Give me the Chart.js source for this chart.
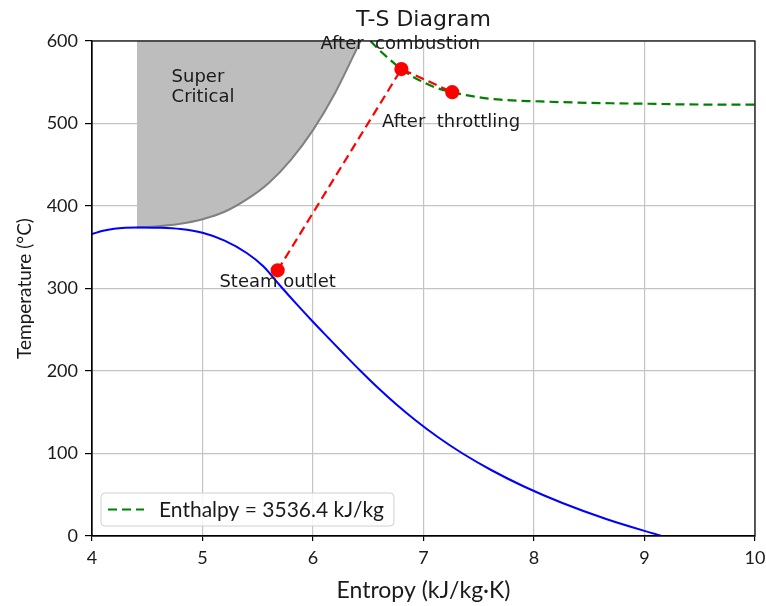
<!DOCTYPE html>
<html>
<head>
<meta charset="utf-8">
<title>T-S Diagram</title>
<script src="https://cdn.jsdelivr.net/npm/chart.js@4/dist/chart.umd.min.js"></script>
<style>
  html, body { margin: 0; padding: 0; background: #fff; }
  #wrap { width: 766px; height: 606px; }
</style>
</head>
<body>
<div id="wrap"><canvas id="tsChart" width="766" height="606"></canvas></div>
<script>
/* ------------------------------
   DATA
--------------------------------*/

const xTicks = [4, 5, 6, 7, 8, 9, 10];
const yTicks = [0, 100, 200, 300, 400, 500, 600];

// saturation dome (entropy kJ/kg·K, temperature °C)
const satS = [4.0, 4.1, 4.2, 4.3, 4.407, 4.6, 4.8, 5.0, 5.2, 5.4, 5.55, 5.705, 5.852, 5.997, 6.14, 6.284, 6.431, 6.585, 6.75, 6.93, 7.129, 7.354, 7.612, 7.909, 8.257, 8.666, 9.155];
const satT = [366, 370, 372.5, 373.7, 374, 373.6, 372, 367.5, 358, 343, 327, 303, 281, 260, 240, 220, 200, 180, 160, 140, 120, 100, 80, 60, 40, 20, 0];

// edge of the super critical region (filled up to the top of the plot)
const critS = [4.407, 4.6, 4.8, 5.0, 5.2, 5.4, 5.6, 5.8, 6.0, 6.2, 6.43];
const critT = [374, 375.5, 378.5, 384, 393, 408, 428, 456, 492, 537, 600];

// constant enthalpy line
const enthLabel = "Enthalpy = 3536.4 kJ/kg";
const enthS = [6.52, 6.6, 6.7, 6.8, 6.9, 7.0, 7.1, 7.26, 7.4, 7.6, 7.8, 8.0, 8.5, 9.0, 9.5, 10.0];
const enthT = [600, 589, 577, 566, 557, 550, 544, 538, 534, 530, 528, 527, 525, 524, 523, 523];

// cycle states
const stateNames = ["Steam outlet", "After  combustion", "After  throttling"];
const stateS = [5.68, 6.80, 7.26];
const stateT = [322, 566, 538];

const regionLabel = ["Super", "Critical"];
const chartTitle = "T-S Diagram";

/* ------------------------------
   HELPERS
--------------------------------*/

const pts = (xs, ys) => xs.map((v, i) => ({ x: v, y: ys[i] }));

/* ------------------------------
   DECORATION PLUGIN
   (frame, title, text notes, legend)
--------------------------------*/

const tsDecor = {
    id: "tsDecor",
    afterDatasetsDraw(chart, args, opts) {
        const { ctx, chartArea: a, scales } = chart;
        const xs = scales.x, ys = scales.y;
        ctx.save();

        // axes frame
        ctx.strokeStyle = "#000";
        ctx.lineWidth = 1.2;
        ctx.strokeRect(a.left, a.top, a.right - a.left, a.bottom - a.top);

        // title centred over the plot area
        ctx.fillStyle = "#1a1a1a";
        ctx.font = '22px "DejaVu Sans"';
        ctx.textAlign = "center";
        ctx.textBaseline = "middle";
        ctx.fillText(opts.title, (a.left + a.right) / 2, a.top - 21);

        // notes
        ctx.font = '18px "DejaVu Sans"';
        opts.notes.forEach(n => {
            ctx.textAlign = n.align || "center";
            ctx.fillText(n.text, xs.getPixelForValue(n.x), ys.getPixelForValue(n.y));
        });

        // legend box
        const ds = chart.data.datasets[opts.legendIndex];
        ctx.font = '21px Lato';
        const tw = ctx.measureText(ds.label).width;
        const bx = a.left + 9, bh = 33, bw = tw + 68;
        const by = a.bottom - 10 - bh;
        ctx.beginPath();
        ctx.roundRect(bx, by, bw, bh, 4);
        ctx.fillStyle = "rgba(255,255,255,0.85)";
        ctx.fill();
        ctx.strokeStyle = "#d0d0d0";
        ctx.lineWidth = 1;
        ctx.stroke();

        ctx.beginPath();
        ctx.setLineDash(ds.borderDash);
        ctx.strokeStyle = ds.borderColor;
        ctx.lineWidth = ds.borderWidth;
        ctx.moveTo(bx + 7, by + bh / 2);
        ctx.lineTo(bx + 43, by + bh / 2);
        ctx.stroke();
        ctx.setLineDash([]);

        ctx.fillStyle = "#1a1a1a";
        ctx.textAlign = "left";
        ctx.fillText(ds.label, bx + 58, by + bh / 2 + 1);

        ctx.restore();
    }
};

/* ------------------------------
   CHART
--------------------------------*/

let tsCtx = document.getElementById("tsChart");

let tsChart = new Chart(tsCtx, {
    type: "line",
    data: {
        datasets: [
            {
                label: "Super Critical",
                data: pts(critS, critT),
                borderColor: "#808080",
                borderWidth: 2,
                pointRadius: 0,
                backgroundColor: "#bdbdbd",
                fill: "end",
                cubicInterpolationMode: "monotone",
                order: 4
            },
            {
                label: "saturation",
                data: pts(satS, satT),
                borderColor: "#0000ff",
                borderWidth: 2,
                pointRadius: 0,
                cubicInterpolationMode: "monotone",
                fill: false,
                order: 3
            },
            {
                label: enthLabel,
                data: pts(enthS, enthT),
                borderColor: "#008000",
                borderWidth: 2.2,
                borderDash: [9, 5],
                pointRadius: 0,
                cubicInterpolationMode: "monotone",
                fill: false,
                order: 2
            },
            {
                label: "cycle",
                data: pts(stateS, stateT),
                borderColor: "#ff0000",
                borderWidth: 2.2,
                borderDash: [9, 5],
                pointRadius: 6,
                pointBackgroundColor: "#ff0000",
                pointBorderColor: "#ff0000",
                tension: 0,
                fill: false,
                order: 1
            }
        ]
    },
    options: {
        responsive: false,
        animation: false,
        layout: { padding: { left: 0, right: 11, top: 41, bottom: 0 } },
        plugins: {
            legend: { display: false },
            tooltip: { enabled: false },
            title: { display: false },
            tsDecor: {
                title: chartTitle,
                legendIndex: 2,
                notes: [
                    { text: regionLabel[0], x: 4.72, y: 556, align: "left" },
                    { text: regionLabel[1], x: 4.72, y: 532, align: "left" },
                    { text: stateNames[0], x: 5.68, y: 307 },
                    { text: stateNames[1], x: 6.79, y: 596 },
                    { text: stateNames[2], x: 7.25, y: 501 }
                ]
            }
        },
        scales: {
            x: {
                type: "linear",
                min: xTicks[0],
                max: xTicks[xTicks.length - 1],
                afterFit: s => { s.height = 70; s.paddingLeft = 0; s.paddingRight = 0; },
                afterBuildTicks: s => { s.ticks = xTicks.map(v => ({ value: v })); },
                ticks: { color: "#1a1a1a", font: { family: "Lato", size: 18 }, padding: 6 },
                grid: { color: "#c4c4c4", lineWidth: 1.2, tickColor: "#000", tickLength: 5 },
                border: { color: "#000", width: 1.2 },
                title: {
                    display: true,
                    text: "Entropy (kJ/kg·K)",
                    color: "#1a1a1a",
                    font: { family: "Lato", size: 23 },
                    padding: { top: 2, bottom: 2 }
                }
            },
            y: {
                type: "linear",
                min: yTicks[0],
                max: yTicks[yTicks.length - 1],
                afterFit: s => { s.width = 92; s.paddingTop = 0; s.paddingBottom = 0; },
                afterBuildTicks: s => { s.ticks = yTicks.map(v => ({ value: v })); },
                ticks: { color: "#1a1a1a", font: { family: "Lato", size: 18 }, padding: 7 },
                grid: { color: "#c4c4c4", lineWidth: 1.2, tickColor: "#000", tickLength: 7 },
                border: { color: "#000", width: 1.2 },
                title: {
                    display: true,
                    text: "Temperature (°C)",
                    color: "#1a1a1a",
                    font: { family: "Lato", size: 19 },
                    padding: { top: 13, bottom: 4 }
                }
            }
        }
    },
    plugins: [tsDecor]
});
</script>
</body>
</html>
